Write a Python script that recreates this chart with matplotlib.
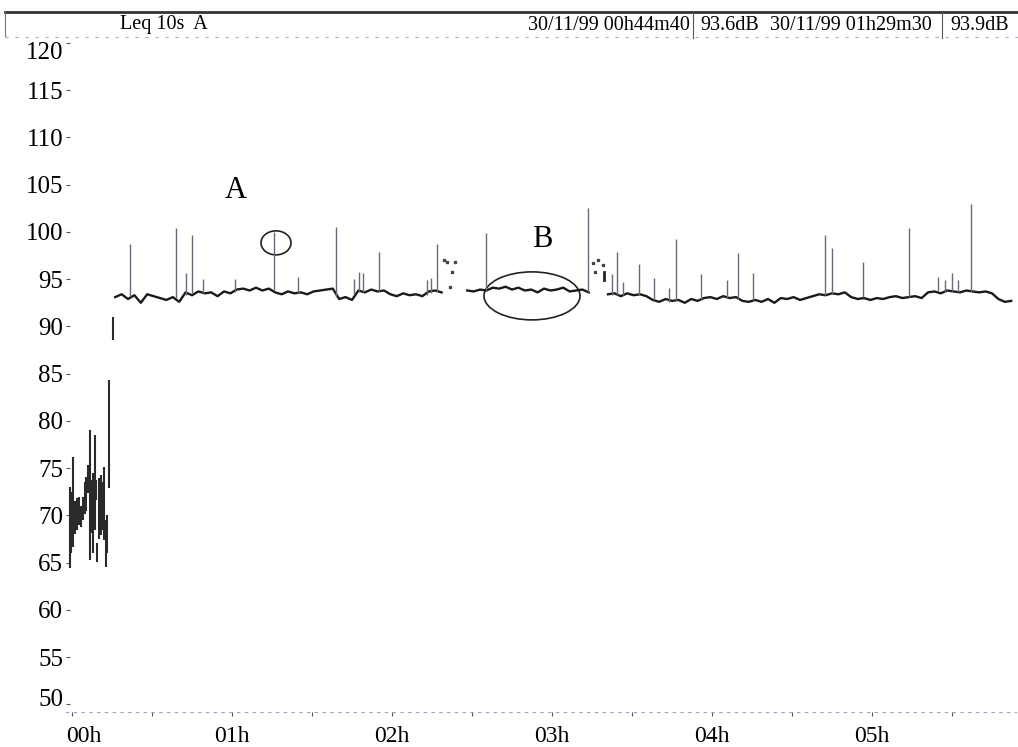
import numpy as np
import matplotlib
matplotlib.use("Agg")
import matplotlib.pyplot as plt
import matplotlib.transforms as mtransforms
from matplotlib.patches import Ellipse
from matplotlib.lines import Line2D

plt.rcParams['font.family'] = ['Liberation Serif', 'DejaVu Serif']

# start-up period: low/high reading of each 10 s block, hours / dB
early_t = [-0.013, -0.006, 0.006, 0.019, 0.031, 0.044, 0.056, 0.069, 0.081, 0.088,
           0.100, 0.113, 0.125, 0.131, 0.144, 0.150, 0.156, 0.169, 0.181, 0.194,
           0.200, 0.213, 0.219, 0.231, 0.256]
early_lo = [64.4, 66.0, 66.7, 68.0, 68.5, 69.0, 68.8, 69.5, 70.1, 70.5,
            72.4, 65.3, 68.1, 66.0, 68.5, 71.6, 65.1, 67.5, 67.9, 68.5,
            67.4, 64.5, 66.0, 72.9, 88.6]
early_hi = [73.0, 72.5, 76.2, 71.5, 71.8, 72.0, 71.0, 72.0, 73.5, 74.1,
            75.3, 79.0, 73.8, 74.5, 78.5, 73.8, 67.1, 74.0, 74.3, 73.5,
            75.1, 69.5, 70.0, 84.3, 91.0]

# steady level, one reading every 0.04 h from 0.27 h (None = no record)
base_t0 = 0.27
base_dt = 0.04
base_db = [93.1, 93.4, 92.9,
           93.3, 92.5, 93.4, 93.2,
           93.0, 92.8, 93.1, 92.6,
           93.6, 93.3, 93.7,
           93.5, 93.6, 93.2, 93.7, 93.5,
           93.9, 94.0, 93.8, 94.1, 93.8, 94.0,
           93.6, 93.4, 93.7, 93.5, 93.6, 93.4, 93.7, 93.8,
           93.9, 94.0,
           92.9, 93.1, 92.8,
           93.8, 93.6, 93.9, 93.7, 93.8,
           93.4, 93.2, 93.5, 93.3, 93.4, 93.2,
           93.7, 93.8,
           93.6, None,
           None, None,
           93.8, 93.7, 93.9, 93.8,
           94.1, 94.0, 94.2, 93.9, 94.1, 93.8,
           93.9, 93.6, 94.0, 93.8, 93.9, 94.1, 93.7,
           93.8, 93.9,
           93.6,
           None, None,
           93.4, 93.5, 93.2, 93.5, 93.3, 93.4, 93.2,
           92.8, 92.6, 92.9, 92.7, 92.8, 92.5, 92.9, 92.7,
           93.0, 93.1, 92.9, 93.2, 93.0,
           93.1, 92.7, 92.6, 92.8, 92.6,
           92.9, 92.5, 93.0, 92.9, 93.1, 92.8, 93.0,
           93.2, 93.4, 93.3, 93.5, 93.4, 93.6,
           93.1, 92.9, 93.0, 92.8, 93.0, 92.9, 93.1,
           93.2, 93.0, 93.1, 93.2, 93.0,
           93.6, 93.7, 93.5, 93.8, 93.7, 93.6, 93.8, 93.7, 93.6,
           93.7, 93.5, 92.9, 92.6, 92.7]

# short events (peaks)
spike_t = [0.363, 0.650, 0.713, 0.750, 0.819, 1.019, 1.263, 1.413, 1.650, 1.763,
           1.794, 1.819, 1.919, 2.219, 2.244, 2.281, 2.588, 3.225, 3.375, 3.406,
           3.444, 3.544, 3.638, 3.731, 3.775, 3.931, 4.094, 4.163, 4.256, 4.706,
           4.750, 4.944, 5.231, 5.413, 5.456, 5.500, 5.538, 5.619]
spike_top = [98.7, 100.4, 95.7, 99.7, 95.0, 95.0, 100.0, 95.2, 100.5, 95.0,
             95.8, 95.7, 97.9, 94.9, 95.1, 98.7, 99.9, 102.5, 95.5, 97.9,
             94.7, 96.6, 95.1, 94.1, 99.3, 95.5, 94.9, 97.8, 95.6, 99.7,
             98.3, 96.8, 100.4, 95.2, 94.9, 95.7, 94.9, 102.9]
spike_base = [93.2, 93.0, 93.3, 93.5, 93.5, 93.6, 93.8, 93.5, 93.1, 93.4,
              93.6, 93.6, 93.7, 93.3, 93.5, 93.6, 93.9, 93.6, 93.3, 93.3,
              93.3, 93.3, 92.8, 92.6, 92.7, 92.9, 93.0, 92.9, 92.8, 93.3,
              93.4, 93.1, 93.1, 93.7, 93.6, 93.7, 93.6, 93.6]

# isolated readings in the gaps
dot_t = [2.325, 2.344, 2.363, 2.375, 2.394, 3.256, 3.288, 3.269, 3.319]
dot_db = [97.0, 96.8, 94.2, 95.8, 96.8, 96.7, 97.0, 95.8, 96.5]
gap_bar_t = [3.325, 3.325]
gap_bar_db = [94.9, 95.8]

hour_labels = ['00h', '01h', '02h', '03h', '04h', '05h']
yticks = list(range(50, 121, 5))

W, H = 1018, 747
fig = plt.figure(figsize=(W / 100, H / 100), dpi=100)
ax = fig.add_axes([66 / W, 1 - 712 / H, 950 / W, 671 / H])

base_t = base_t0 + base_dt * np.arange(len(base_db))
base_v = np.array([np.nan if v is None else v for v in base_db])

ax.vlines(early_t, early_lo, early_hi, color='#2a2a2a', lw=1.5, clip_on=False)
ax.plot(base_t, base_v, color='#1a1a1a', lw=1.7)
ax.vlines(spike_t, spike_base, spike_top, color='#6a6a7a', lw=1.0)
ax.plot(dot_t, dot_db, ls='none', marker='s', ms=1.8, color='#444444')
ax.plot(gap_bar_t, gap_bar_db, color='#222222', lw=2)

ax.add_patch(Ellipse((1.275, 98.84), 0.1875, 2.54, fill=False, lw=1.2, color='#222222'))
ax.add_patch(Ellipse((2.875, 93.23), 0.6, 5.08, fill=False, lw=1.2, color='#222222'))
ax.text(1.025, 104.4, 'A', fontsize=22, ha='center', va='center')
ax.text(2.94, 99.15, 'B', fontsize=22, ha='center', va='center')

ax.set_xlim(-0.0375, 5.9)
ax.set_ylim(49.2, 120.2)
ax.set_yticks(yticks)
ax.set_yticklabels([str(v) for v in yticks], fontsize=18)
ax.set_xticks(range(6))
ax.set_xticklabels(hour_labels, fontsize=17)
ax.set_xticks(np.arange(0.5, 6, 1.0), minor=True)
ax.tick_params(axis='y', direction='in', length=3, width=0.8, color='#555555', pad=2)
ax.tick_params(axis='x', which='both', direction='out', length=3, width=0.8,
               color='#555555', pad=7)
for s in ['left', 'right', 'top']:
    ax.spines[s].set_visible(False)
ax.spines['bottom'].set_color('#9aa0c0')
ax.spines['bottom'].set_linestyle((0, (2, 5)))
ax.spines['bottom'].set_linewidth(0.8)

# the printout squeezes the end labels inward
yt = ax.yaxis.get_major_ticks()
yt[-1].label1.set_transform(yt[-1].label1.get_transform()
                            + mtransforms.ScaledTranslation(0, -8 / 100, fig.dpi_scale_trans))
yt[0].label1.set_transform(yt[0].label1.get_transform()
                           + mtransforms.ScaledTranslation(0, 7 / 100, fig.dpi_scale_trans))
xt = ax.xaxis.get_major_ticks()
xt[0].label1.set_transform(xt[0].label1.get_transform()
                           + mtransforms.ScaledTranslation(12 / 100, 0, fig.dpi_scale_trans))


def fline(x0, y0, x1, y1, **kw):
    fig.add_artist(Line2D([x0 / W, x1 / W], [1 - y0 / H, 1 - y1 / H],
                          transform=fig.transFigure, **kw))


# header box
fline(5, 12, 1018, 12, color='#333333', lw=2)
fline(5, 12, 5, 36, color='#777777', lw=0.8)
fline(5, 37, 1018, 37, color='#a8acc8', lw=0.8, ls=(0, (3, 6)))
fline(693, 12, 693, 38, color='#555555', lw=0.8)
fline(942, 12, 942, 38, color='#555555', lw=0.8)

fig.text(120 / W, 1 - 25 / H, 'Leq 10s  A', fontsize=14.5, va='center')
fig.text(690 / W, 1 - 25 / H, '30/11/99 00h44m40', fontsize=14.5, va='center', ha='right')
fig.text(700 / W, 1 - 25 / H, '93.6dB', fontsize=14.5, va='center')
fig.text(770 / W, 1 - 25 / H, '30/11/99 01h29m30', fontsize=14.5, va='center')
fig.text(950 / W, 1 - 25 / H, '93.9dB', fontsize=14.5, va='center')

fig.savefig('out.png', dpi=100)
